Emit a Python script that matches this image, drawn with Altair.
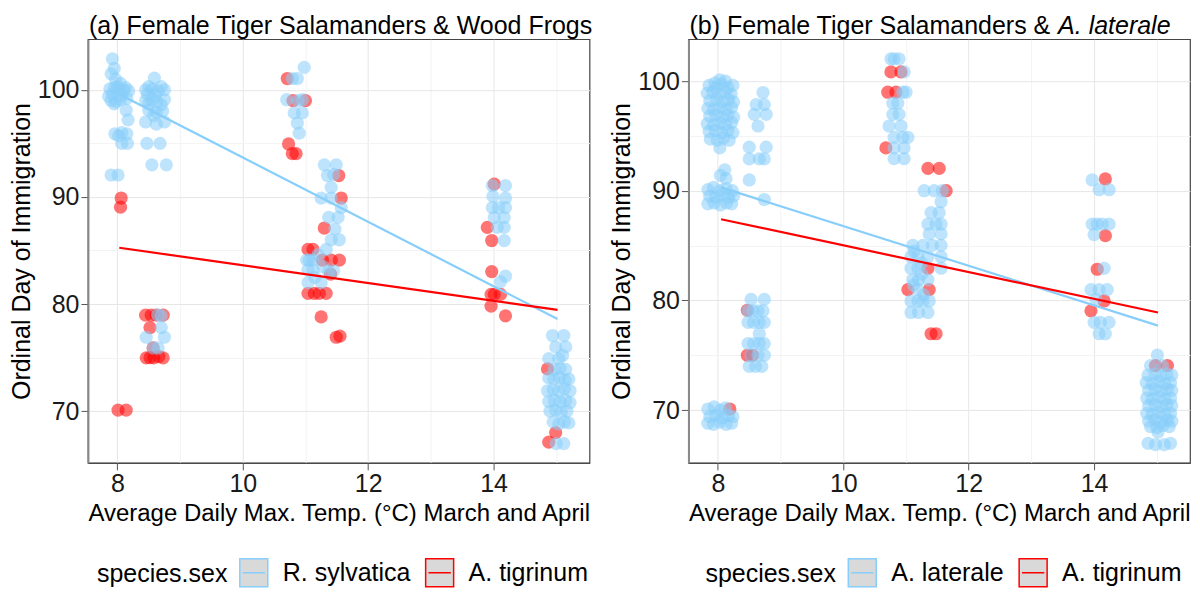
import altair as alt
import pandas as pd

FONT = "Liberation Sans"
BLUE = "#87CEFA"
RED = "#FF0000"
FS = 25

# ─────────────────────────────────────────────────────────────
# (a) R. sylvatica vs A. tigrinum  — (temp, ordinal day) as drawn (jittered)
# ─────────────────────────────────────────────────────────────
a_sylvatica = [
    # ~8.0
    (7.92, 102.9), (7.95, 102.0), (7.90, 101.5), (7.97, 101.0), (8.05, 100.6),
    (7.88, 100.1), (7.95, 100.2), (8.02, 99.9), (8.10, 100.0), (8.18, 99.9),
    (7.92, 99.6), (8.00, 100.3), (8.13, 100.2), (8.07, 99.5), (7.86, 99.4),
    (7.90, 99.0), (7.98, 98.9), (8.05, 99.1), (8.15, 99.2), (7.95, 98.7),
    (8.14, 98.1), (8.17, 97.2),
    (7.96, 95.9), (8.07, 96.0), (8.15, 95.9), (8.02, 95.7),
    (8.07, 95.0), (8.16, 95.0),
    (7.90, 92.05), (8.01, 92.05),
    # ~8.6
    (8.59, 101.1),
    (8.45, 100.0), (8.55, 100.1), (8.65, 99.9), (8.75, 100.0), (8.50, 100.3), (8.70, 100.3),
    (8.45, 99.0), (8.55, 99.1), (8.63, 98.9), (8.75, 99.1), (8.50, 98.7), (8.70, 98.6),
    (8.50, 98.1), (8.62, 97.9), (8.72, 98.0), (8.58, 97.6), (8.60, 99.5), (8.48, 99.6),
    (8.45, 97.0), (8.75, 97.0), (8.62, 96.8),
    (8.47, 95.0), (8.68, 95.0),
    (8.55, 93.0), (8.78, 93.0),
    (8.64, 79.0), (8.70, 78.9), (8.70, 77.8), (8.46, 76.9), (8.75, 76.9),
    (8.57, 75.9), (8.65, 75.9),
    # ~10.9
    (10.98, 102.1), (10.79, 101.06), (10.87, 101.06),
    (10.70, 99.08), (10.95, 99.08), (10.88, 99.0),
    (10.82, 97.85), (10.95, 97.85), (10.87, 96.9), (10.90, 95.96),
    # ~11.3
    (11.30, 93.0), (11.49, 93.0), (11.35, 92.0), (11.45, 92.1),
    (11.41, 90.9), (11.25, 89.9), (11.41, 89.9), (11.57, 89.0),
    (11.37, 88.1), (11.52, 88.1), (11.47, 87.0), (11.41, 86.0), (11.54, 86.0),
    (11.33, 85.1), (11.02, 84.1), (11.06, 84.1), (11.12, 84.1), (11.20, 84.6),
    (11.04, 83.2), (11.12, 83.2), (11.28, 83.5), (11.37, 83.0), (11.45, 83.1),
    (11.04, 82.0), (11.25, 82.0), (11.15, 82.5),
    # ~14.1
    (13.98, 91.06), (14.19, 91.06), (13.99, 90.05), (14.19, 89.9),
    (13.98, 89.0), (14.08, 89.0), (14.19, 89.0), (14.01, 88.07), (14.17, 88.07),
    (14.06, 87.16), (14.17, 87.16), (14.17, 85.93), (14.11, 82.1), (14.19, 82.6),
    # ~15.1
    (14.94, 77.06), (15.12, 77.06), (14.99, 76.0), (15.15, 76.0),
    (14.88, 74.9), (15.04, 74.9), (15.10, 75.2),
    (14.97, 73.9), (15.06, 74.0), (15.15, 73.9),
    (14.88, 73.1), (14.96, 73.0), (15.05, 73.1), (15.14, 72.9), (15.20, 73.0),
    (14.86, 71.9), (14.95, 72.0), (15.04, 71.9), (15.13, 72.1), (15.22, 71.9),
    (14.88, 70.9), (14.97, 71.0), (15.06, 70.9), (15.15, 71.0), (15.22, 70.8),
    (14.90, 70.0), (14.99, 70.1), (15.08, 69.9), (15.17, 70.0),
    (14.95, 69.0), (15.04, 68.8), (15.13, 69.0), (15.20, 68.9),
    (15.00, 66.97), (15.12, 66.97),
]
a_tigrinum = [
    (8.06, 89.9), (8.05, 89.05), (8.01, 70.1), (8.14, 70.1),
    (8.45, 78.96), (8.54, 78.96), (8.62, 78.96), (8.73, 78.96), (8.52, 77.8),
    (8.57, 75.9), (8.46, 74.98), (8.58, 74.98), (8.73, 74.98), (8.52, 75.0), (8.66, 75.1),
    (10.71, 101.06), (10.80, 99.0), (11.00, 99.0),
    (10.73, 94.95), (10.79, 94.04), (10.85, 94.04),
    (11.53, 92.0), (11.57, 89.9), (11.30, 87.1), (11.04, 85.1), (11.12, 85.1),
    (11.27, 84.1), (11.41, 84.1), (11.54, 84.1), (11.40, 82.8),
    (11.04, 81.0), (11.14, 81.0), (11.22, 81.0), (11.33, 81.0),
    (11.25, 78.8), (11.49, 76.9), (11.55, 77.0),
    (14.01, 91.2), (13.90, 87.16), (13.97, 85.93), (13.97, 83.03),
    (13.96, 80.9), (14.01, 80.9), (14.11, 80.9), (13.96, 79.8), (14.19, 78.9),
    (14.86, 73.94), (14.99, 68.0), (14.88, 67.1),
]
a_line_x = [8.03, 15.02]
a_sylvatica_fit = [99.6, 78.6]
a_tigrinum_fit = [85.26, 79.45]

# ─────────────────────────────────────────────────────────────
# (b) A. laterale vs A. tigrinum
# ─────────────────────────────────────────────────────────────
b_laterale = [
    # ~8.0
    (8.03, 100.1), (7.95, 99.8), (8.12, 100.0),
    (7.86, 99.6), (7.97, 99.4), (8.06, 99.7), (8.16, 99.4), (8.24, 99.6),
    (7.83, 98.9), (7.92, 99.0), (8.02, 98.8), (8.12, 99.0), (8.21, 98.8),
    (7.87, 98.2), (7.98, 98.3), (8.07, 98.1), (8.17, 98.3), (8.25, 98.1),
    (7.84, 97.5), (7.93, 97.4), (8.03, 97.6), (8.13, 97.4), (8.22, 97.6),
    (7.87, 96.8), (7.97, 96.9), (8.07, 96.7), (8.16, 96.9), (8.25, 96.7),
    (7.83, 96.1), (7.93, 96.0), (8.03, 96.2), (8.12, 96.0), (8.22, 96.2),
    (7.86, 95.4), (7.96, 95.5), (8.06, 95.3), (8.16, 95.5), (8.24, 95.3),
    (7.88, 94.7), (7.99, 94.6), (8.09, 94.8), (8.18, 94.6),
    (8.03, 93.9), (8.11, 91.9), (8.13, 91.1), (8.04, 91.4),
    (7.84, 90.1), (7.93, 90.3), (8.03, 90.0), (8.13, 90.2), (8.23, 90.0),
    (7.87, 89.5), (7.97, 89.4), (8.07, 89.6), (8.17, 89.4), (8.25, 89.5),
    (7.84, 88.8), (7.94, 88.9), (8.04, 88.7), (8.14, 88.9), (8.22, 88.8),
    (7.84, 70.1), (7.94, 70.3), (8.04, 70.0), (8.12, 70.2),
    (7.87, 69.4), (7.97, 69.5), (8.07, 69.3), (8.17, 69.5), (8.24, 69.4),
    (7.84, 68.8), (7.93, 68.7), (8.03, 68.9), (8.13, 68.7), (8.22, 68.8),
    # ~8.6
    (8.72, 98.95), (8.61, 97.85), (8.74, 97.85), (8.58, 96.96), (8.77, 96.96),
    (8.64, 95.9), (8.50, 93.97), (8.77, 93.97), (8.50, 92.9), (8.66, 92.9),
    (8.74, 92.9), (8.50, 90.98), (8.74, 89.2),
    (8.53, 80.09), (8.74, 80.09),
    (8.48, 79.05), (8.56, 79.05), (8.64, 79.05), (8.72, 79.05),
    (8.48, 78.0), (8.57, 78.0), (8.66, 78.0), (8.74, 78.0),
    (8.66, 76.96), (8.48, 76.06), (8.57, 76.06), (8.66, 76.06), (8.74, 76.06),
    (8.53, 75.0), (8.64, 75.0), (8.74, 75.0),
    (8.50, 73.98), (8.60, 73.98), (8.70, 73.98),
    # ~10.9
    (10.76, 102.02), (10.81, 102.02), (10.89, 102.02), (10.97, 100.83),
    (10.95, 98.98), (11.00, 98.98), (10.79, 97.99), (10.87, 97.99),
    (10.79, 96.96), (10.89, 96.96), (10.73, 95.9), (10.92, 95.9),
    (10.81, 94.86), (10.95, 94.86), (11.03, 94.86), (10.81, 93.9), (10.97, 93.9),
    (10.81, 92.93), (10.97, 92.93),
    # ~11.3
    (11.29, 90.0), (11.45, 90.0), (11.58, 90.0), (11.56, 88.99),
    (11.40, 88.0), (11.53, 88.0), (11.35, 86.96), (11.48, 86.96), (11.56, 86.96),
    (11.37, 86.06), (11.56, 86.06),
    (11.11, 85.01), (11.27, 85.01), (11.42, 85.01), (11.56, 85.01),
    (11.08, 83.98), (11.19, 83.98), (11.35, 83.98), (11.56, 83.98), (11.13, 84.5),
    (11.08, 82.93), (11.19, 82.93), (11.56, 82.93), (11.25, 83.4),
    (11.11, 81.88), (11.20, 81.88), (11.35, 81.88), (11.25, 82.4),
    (11.19, 80.98), (11.12, 81.4), (11.28, 80.5),
    (11.08, 79.95), (11.19, 79.95), (11.27, 79.95), (11.37, 79.95),
    (11.08, 78.9), (11.20, 78.9), (11.35, 78.9),
    # ~14.1
    (13.97, 90.98), (14.08, 90.09), (14.24, 90.09),
    (13.97, 86.96), (14.05, 86.96), (14.13, 86.96), (14.24, 86.96), (14.00, 86.0),
    (14.16, 82.93), (13.95, 80.98), (14.08, 80.98), (14.21, 80.98), (14.03, 80.09),
    (14.00, 78.0), (14.10, 78.0), (14.24, 78.0), (14.08, 76.96), (14.18, 76.96),
    # ~15.1
    (15.01, 75.02), (14.90, 74.06), (15.09, 74.06),
    (14.86, 73.2), (14.97, 73.3), (15.06, 73.1), (15.16, 73.3), (15.24, 73.2),
    (14.83, 72.5), (14.93, 72.4), (15.03, 72.6), (15.13, 72.4), (15.22, 72.5),
    (14.87, 71.8), (14.97, 71.9), (15.07, 71.7), (15.17, 71.9), (15.24, 71.8),
    (14.84, 71.1), (14.93, 71.0), (15.03, 71.2), (15.13, 71.0), (15.22, 71.1),
    (14.87, 70.4), (14.97, 70.5), (15.07, 70.3), (15.16, 70.5), (15.24, 70.4),
    (14.84, 69.7), (14.93, 69.6), (15.03, 69.8), (15.13, 69.6), (15.22, 69.7),
    (14.87, 69.0), (14.97, 69.1), (15.07, 68.9), (15.17, 69.1), (15.24, 69.0),
    (14.90, 68.5), (15.00, 68.4), (15.10, 68.6), (15.20, 68.5),
    (15.02, 68.0),
    (14.86, 66.97), (14.98, 66.85), (15.12, 66.85), (15.22, 66.97),
]
b_tigrinum = [
    (8.19, 70.1), (8.47, 75.0), (8.55, 75.0), (8.47, 79.1),
    (10.76, 100.83), (10.92, 100.83), (10.71, 98.98), (10.84, 98.98), (10.68, 93.9),
    (11.35, 92.03), (11.53, 92.03), (11.64, 90.0), (11.35, 82.93),
    (11.03, 80.98), (11.37, 80.98), (11.40, 76.96), (11.48, 76.96),
    (14.18, 91.07), (14.18, 85.9), (14.05, 82.84), (14.16, 79.95), (13.95, 79.05),
    (14.98, 74.06), (15.17, 74.06),
]
b_line_x = [8.05, 15.02]
b_laterale_fit = [90.3, 77.7]
b_tigrinum_fit = [87.4, 78.9]

X_TITLE = "Average Daily Max. Temp. (°C) March and April"
Y_TITLE = "Ordinal Day of Immigration"


def points_frame(blue_pts, blue_label, red_pts):
    rows = [{"x": x, "y": y, "sp": "A. tigrinum"} for x, y in red_pts]
    rows += [{"x": x, "y": y, "sp": blue_label} for x, y in blue_pts]
    return pd.DataFrame(rows)


def lines_frame(line_x, blue_fit, blue_label, red_fit):
    return pd.DataFrame({
        "x": line_x + line_x,
        "y": blue_fit + red_fit,
        "sp": [blue_label] * 2 + ["A. tigrinum"] * 2,
    })


def panel(pts, fits, blue_label, y_domain, title_plain, title_italic, italic_x, legend_x):
    # stroke scale feeds the legend; the point fill scale lists the domain the other
    # way round so Vega-Lite does not fold the two legends into one
    stroke_scale = alt.Scale(domain=[blue_label, "A. tigrinum"], range=[BLUE, RED])
    fill_scale = alt.Scale(domain=["A. tigrinum", blue_label], range=[RED, BLUE])

    x_enc = alt.X(
        "x:Q",
        scale=alt.Scale(domain=[7.53, 15.53], nice=False, zero=False),
        axis=alt.Axis(
            title=X_TITLE,
            titleFontSize=24,
            values=[8, 9, 10, 11, 12, 13, 14, 15],
            labelExpr="datum.value % 2 == 0 ? format(datum.value, 'd') : ''",
            gridColor={"condition": {"test": "datum.value % 2 != 0", "value": "#F3F3F3"}, "value": "#E6E6E6"},
            tickColor={"condition": {"test": "datum.value % 2 != 0", "value": "transparent"}, "value": "#555555"},
            titlePadding=5,
        ),
    )
    y_enc = alt.Y(
        "y:Q",
        scale=alt.Scale(domain=y_domain, nice=False, zero=False),
        axis=alt.Axis(
            title=Y_TITLE,
            values=[70, 75, 80, 85, 90, 95, 100],
            labelExpr="datum.value % 10 == 0 ? format(datum.value, 'd') : ''",
            gridColor={"condition": {"test": "datum.value % 10 != 0", "value": "#F3F3F3"}, "value": "#E6E6E6"},
            tickColor={"condition": {"test": "datum.value % 10 != 0", "value": "transparent"}, "value": "#555555"},
            titlePadding=3,
            domainColor="#888888",
            domainWidth=2,
        ),
    )

    legend = alt.Legend(
        orient="none",
        legendX=legend_x,
        legendY=519,
        direction="horizontal",
        titleOrient="left",
        title="species.sex",
        symbolType="M-1,-1H1V1H-1Z M-0.8,0H0.8",
        symbolSize=784,
        symbolStrokeWidth=1.5,
        symbolFillColor="#D9D9D9",
        labelFont=FONT,
        titleFont=FONT,
        labelFontSize=FS,
        titleFontSize=FS,
        titleFontWeight="normal",
        labelColor="black",
        titleColor="black",
        titlePadding=11,
        labelOffset=14,
        columnPadding=12,
    )

    dots = (
        alt.Chart(pts)
        .mark_circle(size=175, opacity=0.55)
        .encode(x=x_enc, y=y_enc, fill=alt.Fill("sp:N", scale=fill_scale, legend=None))
    )

    fit_lines = (
        alt.Chart(fits)
        .mark_line(strokeWidth=2.2)
        .encode(
            x="x:Q",
            y="y:Q",
            stroke=alt.Stroke("sp:N", scale=stroke_scale, legend=legend),
        )
    )

    title_a = (
        alt.Chart(pd.DataFrame({"t": [title_plain]}))
        .mark_text(align="left", baseline="alphabetic", font=FONT, fontSize=FS, color="black")
        .encode(text="t:N", x=alt.value(1), y=alt.value(-5))
    )
    layers = [dots, fit_lines, title_a]
    if title_italic:
        title_b = (
            alt.Chart(pd.DataFrame({"t": [title_italic]}))
            .mark_text(align="left", baseline="alphabetic", font=FONT, fontSize=FS,
                       fontStyle="italic", color="black")
            .encode(text="t:N", x=alt.value(italic_x), y=alt.value(-5))
        )
        layers.append(title_b)

    return alt.layer(*layers).properties(width=502, height=424)


left = panel(
    points_frame(a_sylvatica, "R. sylvatica", a_tigrinum),
    lines_frame(a_line_x, a_sylvatica_fit, "R. sylvatica", a_tigrinum_fit),
    "R. sylvatica", [65.17, 104.73],
    "(a) Female Tiger Salamanders & Wood Frogs", None, 0, 9,
)
right = panel(
    points_frame(b_laterale, "A. laterale", b_tigrinum),
    lines_frame(b_line_x, b_laterale_fit, "A. laterale", b_tigrinum_fit),
    "A. laterale", [65.19, 103.81],
    "(b) Female Tiger Salamanders &", "A. laterale", 370, 17,
)

chart = (
    alt.hconcat(left, right, spacing=15)
    .resolve_scale(fill="independent", stroke="independent")
    .properties(padding={"left": 0, "top": 5, "right": 0, "bottom": 0})
    .configure_view(stroke="#444444", strokeWidth=1.2)
    .configure_axis(
        labelFont=FONT,
        titleFont=FONT,
        labelFontSize=FS,
        titleFontSize=FS,
        labelColor="#1A1A1A",
        titleColor="black",
        titleFontWeight="normal",
        tickSize=7,
        tickWidth=1,
        labelPadding=2,
        domainColor="#444444",
        gridWidth=1,
    )
)

chart.save("out.html", embed_options={"renderer": "svg", "actions": False})
